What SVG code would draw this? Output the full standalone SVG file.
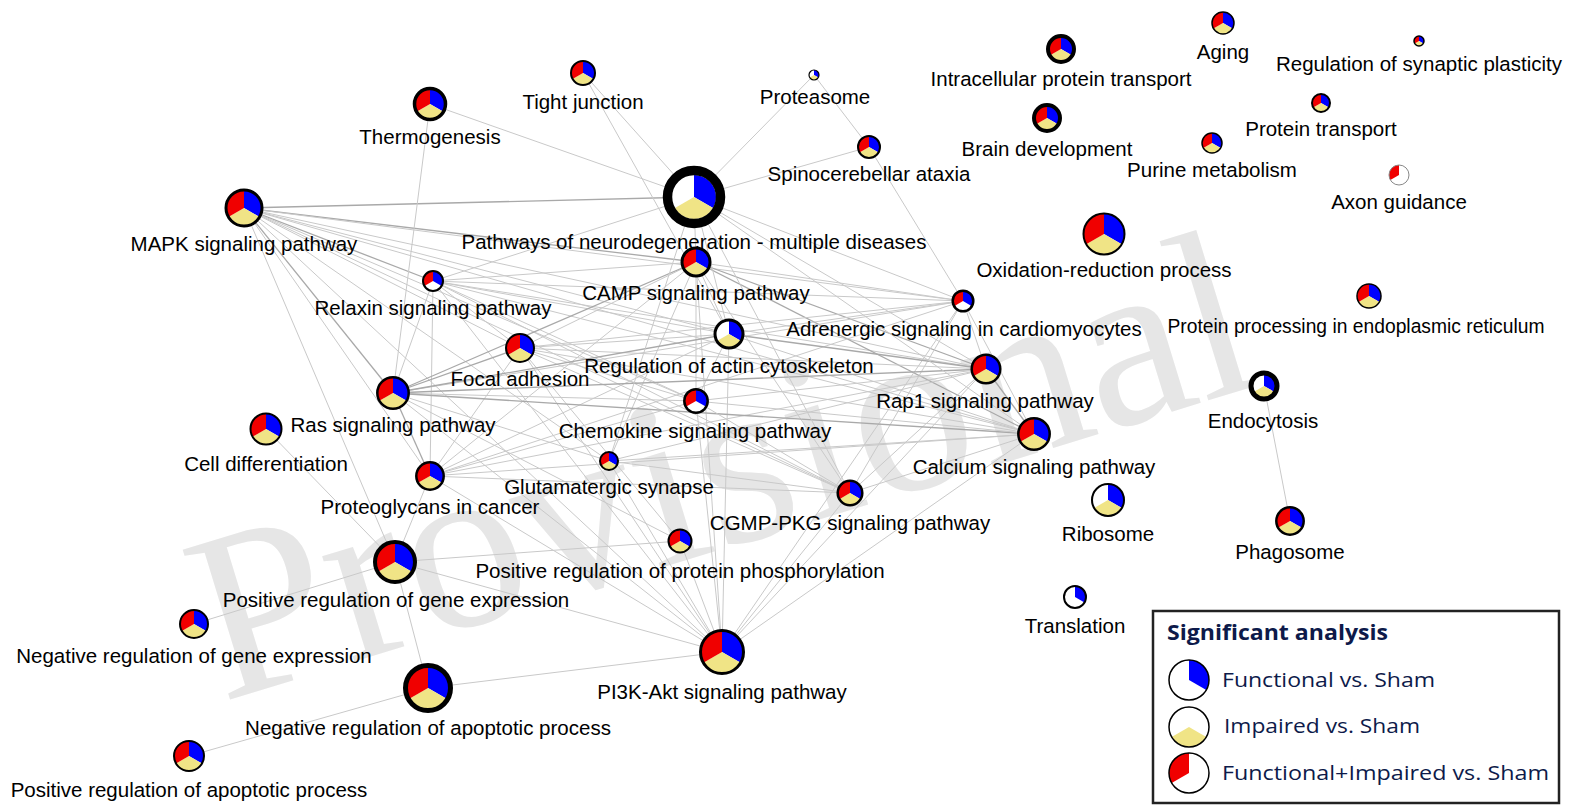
<svg xmlns="http://www.w3.org/2000/svg" xmlns:xlink="http://www.w3.org/1999/xlink" width="1581" height="806" viewBox="0 0 1581 806">
<style>
text{font-family:"Liberation Sans",Arial,sans-serif;font-size:20.5px;fill:#000;text-anchor:middle}
.rim{fill:none;stroke:#000}
.bg{fill:#fff}
#edges line{stroke:#c9c9c9;stroke-width:1}
#edges line.d{stroke:#a9a9a9;stroke-width:1.3}
.lg{font-family:"Open Sans","Liberation Sans",sans-serif;fill:#0d1a4a;text-anchor:start}
.wm{font-family:"Liberation Serif","Times New Roman",serif;font-size:240px;fill:#e6e6e6;text-anchor:start}
</style>
<defs>
<path id="sB" d="M0,0V-1A1,1 0 0 1 .866,.5Z" fill="#0000ff"/>
<path id="sY" d="M0,0L.866,.5A1,1 0 0 1 -.866,.5Z" fill="#f0e486"/>
<path id="sR" d="M0,0L-.866,.5A1,1 0 0 1 0,-1Z" fill="#f00000"/>
<g id="pF"><use href="#sB"/><use href="#sY"/><use href="#sR"/></g>
<g id="pBY"><use href="#sB"/><use href="#sY"/></g>
<g id="pRB"><use href="#sB"/><use href="#sR"/></g>
</defs>
<rect width="1581" height="806" fill="#fff"/>
<text class="wm" transform="translate(222 702) rotate(-17)">Provisional</text>

<g id="edges">
<line x1="244" y1="208" x2="694" y2="197" class="d"/>
<line x1="244" y1="208" x2="696" y2="262" class="d"/>
<line x1="244" y1="208" x2="433" y2="281" class="d"/>
<line x1="244" y1="208" x2="963" y2="301"/>
<line x1="244" y1="208" x2="729" y2="334"/>
<line x1="244" y1="208" x2="986" y2="369"/>
<line x1="244" y1="208" x2="520" y2="348"/>
<line x1="244" y1="208" x2="1034" y2="434"/>
<line x1="244" y1="208" x2="696" y2="401"/>
<line x1="244" y1="208" x2="393" y2="393" class="d"/>
<line x1="244" y1="208" x2="430" y2="476"/>
<line x1="244" y1="208" x2="850" y2="493"/>
<line x1="244" y1="208" x2="722" y2="652"/>
<line x1="244" y1="208" x2="395" y2="562"/>
<line x1="244" y1="208" x2="609" y2="461"/>
<line x1="433" y1="281" x2="696" y2="262"/>
<line x1="433" y1="281" x2="963" y2="301"/>
<line x1="433" y1="281" x2="520" y2="348"/>
<line x1="433" y1="281" x2="729" y2="334"/>
<line x1="433" y1="281" x2="986" y2="369"/>
<line x1="433" y1="281" x2="393" y2="393"/>
<line x1="433" y1="281" x2="696" y2="401"/>
<line x1="433" y1="281" x2="1034" y2="434"/>
<line x1="433" y1="281" x2="430" y2="476"/>
<line x1="433" y1="281" x2="850" y2="493"/>
<line x1="433" y1="281" x2="722" y2="652"/>
<line x1="433" y1="281" x2="694" y2="197"/>
<line x1="696" y1="262" x2="694" y2="197"/>
<line x1="696" y1="262" x2="963" y2="301"/>
<line x1="696" y1="262" x2="520" y2="348"/>
<line x1="696" y1="262" x2="729" y2="334"/>
<line x1="696" y1="262" x2="986" y2="369" class="d"/>
<line x1="696" y1="262" x2="393" y2="393" class="d"/>
<line x1="696" y1="262" x2="696" y2="401"/>
<line x1="696" y1="262" x2="1034" y2="434" class="d"/>
<line x1="696" y1="262" x2="609" y2="461"/>
<line x1="696" y1="262" x2="430" y2="476"/>
<line x1="696" y1="262" x2="850" y2="493"/>
<line x1="696" y1="262" x2="722" y2="652"/>
<line x1="963" y1="301" x2="694" y2="197"/>
<line x1="963" y1="301" x2="869" y2="147"/>
<line x1="963" y1="301" x2="729" y2="334"/>
<line x1="963" y1="301" x2="986" y2="369"/>
<line x1="963" y1="301" x2="1034" y2="434"/>
<line x1="963" y1="301" x2="850" y2="493"/>
<line x1="963" y1="301" x2="722" y2="652"/>
<line x1="963" y1="301" x2="393" y2="393"/>
<line x1="963" y1="301" x2="520" y2="348"/>
<line x1="963" y1="301" x2="430" y2="476"/>
<line x1="520" y1="348" x2="729" y2="334"/>
<line x1="520" y1="348" x2="986" y2="369"/>
<line x1="520" y1="348" x2="393" y2="393" class="d"/>
<line x1="520" y1="348" x2="696" y2="401"/>
<line x1="520" y1="348" x2="1034" y2="434"/>
<line x1="520" y1="348" x2="430" y2="476"/>
<line x1="520" y1="348" x2="722" y2="652"/>
<line x1="520" y1="348" x2="680" y2="541"/>
<line x1="520" y1="348" x2="850" y2="493"/>
<line x1="729" y1="334" x2="986" y2="369" class="d"/>
<line x1="729" y1="334" x2="393" y2="393" class="d"/>
<line x1="729" y1="334" x2="696" y2="401"/>
<line x1="729" y1="334" x2="1034" y2="434"/>
<line x1="729" y1="334" x2="430" y2="476"/>
<line x1="729" y1="334" x2="722" y2="652"/>
<line x1="729" y1="334" x2="583" y2="73"/>
<line x1="729" y1="334" x2="694" y2="197"/>
<line x1="986" y1="369" x2="393" y2="393" class="d"/>
<line x1="986" y1="369" x2="696" y2="401"/>
<line x1="986" y1="369" x2="1034" y2="434" class="d"/>
<line x1="986" y1="369" x2="430" y2="476"/>
<line x1="986" y1="369" x2="850" y2="493"/>
<line x1="986" y1="369" x2="722" y2="652"/>
<line x1="986" y1="369" x2="609" y2="461"/>
<line x1="986" y1="369" x2="694" y2="197"/>
<line x1="393" y1="393" x2="696" y2="401"/>
<line x1="393" y1="393" x2="1034" y2="434" class="d"/>
<line x1="393" y1="393" x2="430" y2="476" class="d"/>
<line x1="393" y1="393" x2="722" y2="652"/>
<line x1="393" y1="393" x2="609" y2="461"/>
<line x1="393" y1="393" x2="680" y2="541"/>
<line x1="393" y1="393" x2="430" y2="104"/>
<line x1="696" y1="401" x2="1034" y2="434"/>
<line x1="696" y1="401" x2="430" y2="476"/>
<line x1="696" y1="401" x2="722" y2="652"/>
<line x1="696" y1="401" x2="850" y2="493"/>
<line x1="1034" y1="434" x2="430" y2="476"/>
<line x1="1034" y1="434" x2="850" y2="493"/>
<line x1="1034" y1="434" x2="722" y2="652"/>
<line x1="1034" y1="434" x2="609" y2="461"/>
<line x1="1034" y1="434" x2="694" y2="197"/>
<line x1="609" y1="461" x2="722" y2="652"/>
<line x1="609" y1="461" x2="850" y2="493"/>
<line x1="609" y1="461" x2="694" y2="197"/>
<line x1="430" y1="476" x2="722" y2="652"/>
<line x1="430" y1="476" x2="395" y2="562"/>
<line x1="430" y1="476" x2="850" y2="493"/>
<line x1="850" y1="493" x2="722" y2="652"/>
<line x1="850" y1="493" x2="694" y2="197"/>
<line x1="680" y1="541" x2="722" y2="652"/>
<line x1="680" y1="541" x2="395" y2="562"/>
<line x1="395" y1="562" x2="194" y2="624"/>
<line x1="395" y1="562" x2="428" y2="688"/>
<line x1="395" y1="562" x2="722" y2="652"/>
<line x1="395" y1="562" x2="266" y2="429"/>
<line x1="428" y1="688" x2="189" y2="756"/>
<line x1="428" y1="688" x2="722" y2="652"/>
<line x1="1264" y1="386" x2="1290" y2="521"/>
<line x1="694" y1="197" x2="430" y2="104"/>
<line x1="694" y1="197" x2="583" y2="73"/>
<line x1="694" y1="197" x2="814" y2="75"/>
<line x1="694" y1="197" x2="869" y2="147"/>
<line x1="814" y1="75" x2="869" y2="147"/>
</g>

<g id="n-neuro"><circle class="bg" cx="694" cy="197" r="26"/><use href="#pBY" transform="translate(694 197) scale(22)"/><circle class="rim" cx="694" cy="197" r="26.5" stroke-width="9.5"/><text x="694" y="249">Pathways of neurodegeneration - multiple diseases</text></g>
<g id="n-thermo"><circle class="bg" cx="430" cy="104" r="15.5"/><use href="#pF" transform="translate(430 104) scale(15.5)"/><circle class="rim" cx="430" cy="104" r="15.5" stroke-width="3.5"/><text x="430" y="144">Thermogenesis</text></g>
<g id="n-tight"><circle class="bg" cx="583" cy="73" r="12"/><use href="#pF" transform="translate(583 73) scale(12)"/><circle class="rim" cx="583" cy="73" r="12" stroke-width="2"/><text x="583" y="109">Tight junction</text></g>
<g id="n-proteasome"><circle class="bg" cx="814" cy="75" r="5"/><use href="#pBY" transform="translate(814 75) scale(5)"/><circle class="rim" cx="814" cy="75" r="5" stroke-width="1.2"/><text x="815" y="104">Proteasome</text></g>
<g id="n-spino"><circle class="bg" cx="869" cy="147" r="11"/><use href="#pF" transform="translate(869 147) scale(11)"/><circle class="rim" cx="869" cy="147" r="11" stroke-width="2"/><text x="869" y="181">Spinocerebellar ataxia</text></g>
<g id="n-intra"><circle class="bg" cx="1061" cy="49" r="13"/><use href="#pF" transform="translate(1061 49) scale(13)"/><circle class="rim" cx="1061" cy="49" r="13" stroke-width="4"/><text x="1061" y="86">Intracellular protein transport</text></g>
<g id="n-aging"><circle class="bg" cx="1223" cy="23" r="11"/><use href="#pF" transform="translate(1223 23) scale(11)"/><circle class="rim" cx="1223" cy="23" r="11" stroke-width="1.5"/><text x="1223" y="59">Aging</text></g>
<g id="n-synaptic"><circle class="bg" cx="1419" cy="41" r="5"/><use href="#pF" transform="translate(1419 41) scale(5)"/><circle class="rim" cx="1419" cy="41" r="5" stroke-width="1.5"/><text x="1419" y="71">Regulation of synaptic plasticity</text></g>
<g id="n-brain"><circle class="bg" cx="1047" cy="118" r="13"/><use href="#pF" transform="translate(1047 118) scale(13)"/><circle class="rim" cx="1047" cy="118" r="13" stroke-width="4"/><text x="1047" y="156">Brain development</text></g>
<g id="n-ptransport"><circle class="bg" cx="1321" cy="103" r="9"/><use href="#pF" transform="translate(1321 103) scale(9)"/><circle class="rim" cx="1321" cy="103" r="9" stroke-width="2"/><text x="1321" y="136">Protein transport</text></g>
<g id="n-purine"><circle class="bg" cx="1212" cy="143" r="10"/><use href="#pF" transform="translate(1212 143) scale(10)"/><circle class="rim" cx="1212" cy="143" r="10" stroke-width="1.5"/><text x="1212" y="177">Purine metabolism</text></g>
<g id="n-axon"><circle class="bg" cx="1399" cy="175" r="10"/><use href="#sR" transform="translate(1399 175) scale(10)"/><circle class="rim" cx="1399" cy="175" r="10" stroke-width="1" style="stroke:#888"/><text x="1399" y="209">Axon guidance</text></g>
<g id="n-mapk"><circle class="bg" cx="244" cy="208" r="18"/><use href="#pF" transform="translate(244 208) scale(18)"/><circle class="rim" cx="244" cy="208" r="18" stroke-width="3"/><text x="244" y="251">MAPK signaling pathway</text></g>
<g id="n-oxid"><circle class="bg" cx="1104" cy="234" r="20.5"/><use href="#pF" transform="translate(1104 234) scale(20.5)"/><circle class="rim" cx="1104" cy="234" r="20.5" stroke-width="2"/><text x="1104" y="277">Oxidation-reduction process</text></g>
<g id="n-relaxin"><circle class="bg" cx="433" cy="281" r="10"/><use href="#pRB" transform="translate(433 281) scale(10)"/><circle class="rim" cx="433" cy="281" r="10" stroke-width="2"/><text x="433" y="315">Relaxin signaling pathway</text></g>
<g id="n-camp"><circle class="bg" cx="696" cy="262" r="14"/><use href="#pF" transform="translate(696 262) scale(14)"/><circle class="rim" cx="696" cy="262" r="14" stroke-width="3"/><text x="696" y="300">CAMP signaling pathway</text></g>
<g id="n-adren"><circle class="bg" cx="963" cy="301" r="10.3"/><use href="#pRB" transform="translate(963 301) scale(10.3)"/><circle class="rim" cx="963" cy="301" r="10.3" stroke-width="2.5"/><text x="964" y="336">Adrenergic signaling in cardiomyocytes</text></g>
<g id="n-er"><circle class="bg" cx="1369" cy="296" r="12"/><use href="#pF" transform="translate(1369 296) scale(12)"/><circle class="rim" cx="1369" cy="296" r="12" stroke-width="1.5"/><text x="1356" y="333" textLength="377" lengthAdjust="spacingAndGlyphs">Protein processing in endoplasmic reticulum</text></g>
<g id="n-focal"><circle class="bg" cx="520" cy="348" r="14"/><use href="#pF" transform="translate(520 348) scale(14)"/><circle class="rim" cx="520" cy="348" r="14" stroke-width="2"/><text x="520" y="386">Focal adhesion</text></g>
<g id="n-actin"><circle class="bg" cx="729" cy="334" r="14"/><use href="#pBY" transform="translate(729 334) scale(14)"/><circle class="rim" cx="729" cy="334" r="14" stroke-width="3"/><text x="729" y="373">Regulation of actin cytoskeleton</text></g>
<g id="n-rap1"><circle class="bg" cx="986" cy="369" r="14.3"/><use href="#pF" transform="translate(986 369) scale(14.3)"/><circle class="rim" cx="986" cy="369" r="14.3" stroke-width="2.5"/><text x="985" y="408">Rap1 signaling pathway</text></g>
<g id="n-endo"><circle class="bg" cx="1264" cy="386" r="13"/><use href="#pBY" transform="translate(1264 386) scale(13)"/><circle class="rim" cx="1264" cy="386" r="13" stroke-width="5"/><text x="1263" y="428">Endocytosis</text></g>
<g id="n-ras"><circle class="bg" cx="393" cy="393" r="15.7"/><use href="#pF" transform="translate(393 393) scale(15.7)"/><circle class="rim" cx="393" cy="393" r="15.7" stroke-width="2.5"/><text x="393" y="432">Ras signaling pathway</text></g>
<g id="n-celldiff"><circle class="bg" cx="266" cy="429" r="15.5"/><use href="#pF" transform="translate(266 429) scale(15.5)"/><circle class="rim" cx="266" cy="429" r="15.5" stroke-width="2"/><text x="266" y="471">Cell differentiation</text></g>
<g id="n-chemo"><circle class="bg" cx="696" cy="401" r="11.7"/><use href="#pRB" transform="translate(696 401) scale(11.7)"/><circle class="rim" cx="696" cy="401" r="11.7" stroke-width="2.5"/><text x="695" y="438">Chemokine signaling pathway</text></g>
<g id="n-calcium"><circle class="bg" cx="1034" cy="434" r="15.7"/><use href="#pF" transform="translate(1034 434) scale(15.7)"/><circle class="rim" cx="1034" cy="434" r="15.7" stroke-width="2.5"/><text x="1034" y="474">Calcium signaling pathway</text></g>
<g id="n-glut"><circle class="bg" cx="609" cy="461" r="9"/><use href="#pF" transform="translate(609 461) scale(9)"/><circle class="rim" cx="609" cy="461" r="9" stroke-width="2"/><text x="609" y="494">Glutamatergic synapse</text></g>
<g id="n-proteo"><circle class="bg" cx="430" cy="476" r="13.7"/><use href="#pF" transform="translate(430 476) scale(13.7)"/><circle class="rim" cx="430" cy="476" r="13.7" stroke-width="2.5"/><text x="430" y="514">Proteoglycans in cancer</text></g>
<g id="n-cgmp"><circle class="bg" cx="850" cy="493" r="12.3"/><use href="#pF" transform="translate(850 493) scale(12.3)"/><circle class="rim" cx="850" cy="493" r="12.3" stroke-width="2.5"/><text x="850" y="530">CGMP-PKG signaling pathway</text></g>
<g id="n-ribo"><circle class="bg" cx="1108" cy="500" r="16"/><use href="#pBY" transform="translate(1108 500) scale(16)"/><circle class="rim" cx="1108" cy="500" r="16" stroke-width="2"/><text x="1108" y="541">Ribosome</text></g>
<g id="n-phago"><circle class="bg" cx="1290" cy="521" r="13.7"/><use href="#pF" transform="translate(1290 521) scale(13.7)"/><circle class="rim" cx="1290" cy="521" r="13.7" stroke-width="2.5"/><text x="1290" y="559">Phagosome</text></g>
<g id="n-pospp"><circle class="bg" cx="680" cy="541" r="11.5"/><use href="#pF" transform="translate(680 541) scale(11.5)"/><circle class="rim" cx="680" cy="541" r="11.5" stroke-width="2"/><text x="680" y="578">Positive regulation of protein phosphorylation</text></g>
<g id="n-posge"><circle class="bg" cx="395" cy="562" r="20"/><use href="#pF" transform="translate(395 562) scale(20)"/><circle class="rim" cx="395" cy="562" r="20" stroke-width="4"/><text x="396" y="607">Positive regulation of gene expression</text></g>
<g id="n-transl"><circle class="bg" cx="1075" cy="597" r="11"/><use href="#sB" transform="translate(1075 597) scale(11)"/><circle class="rim" cx="1075" cy="597" r="11" stroke-width="2"/><text x="1075" y="633">Translation</text></g>
<g id="n-neggene"><circle class="bg" cx="194" cy="624" r="14"/><use href="#pF" transform="translate(194 624) scale(14)"/><circle class="rim" cx="194" cy="624" r="14" stroke-width="2"/><text x="194" y="663">Negative regulation of gene expression</text></g>
<g id="n-pi3k"><circle class="bg" cx="722" cy="652" r="21.5"/><use href="#pF" transform="translate(722 652) scale(21.5)"/><circle class="rim" cx="722" cy="652" r="21.5" stroke-width="3"/><text x="722" y="699">PI3K-Akt signaling pathway</text></g>
<g id="n-negapop"><circle class="bg" cx="428" cy="688" r="22.5"/><use href="#pF" transform="translate(428 688) scale(22.5)"/><circle class="rim" cx="428" cy="688" r="22.5" stroke-width="5"/><text x="428" y="735">Negative regulation of apoptotic process</text></g>
<g id="n-posapop"><circle class="bg" cx="189" cy="756" r="15"/><use href="#pF" transform="translate(189 756) scale(15)"/><circle class="rim" cx="189" cy="756" r="15" stroke-width="2"/><text x="189" y="797">Positive regulation of apoptotic process</text></g>

<g id="legend">
<rect x="1153" y="611" width="406" height="192" fill="#fff" stroke="#222" stroke-width="2.5"/>
<text class="lg" x="1167" y="640" font-size="22" font-weight="700" textLength="221" lengthAdjust="spacingAndGlyphs">Significant analysis</text>
<circle class="bg" cx="1189" cy="680" r="20"/><use href="#sB" transform="translate(1189 680) scale(20)"/><circle class="rim" cx="1189" cy="680" r="20" stroke-width="1.5"/>
<text class="lg" x="1222" y="687" font-size="24" textLength="213" lengthAdjust="spacingAndGlyphs">Functional vs. Sham</text>
<circle class="bg" cx="1189" cy="727" r="20"/><use href="#sY" transform="translate(1189 727) scale(20)"/><circle class="rim" cx="1189" cy="727" r="20" stroke-width="1.5"/>
<text class="lg" x="1224" y="733" font-size="24" textLength="196" lengthAdjust="spacingAndGlyphs">Impaired vs. Sham</text>
<circle class="bg" cx="1189" cy="773" r="20"/><use href="#sR" transform="translate(1189 773) scale(20)"/><circle class="rim" cx="1189" cy="773" r="20" stroke-width="1.5"/>
<text class="lg" x="1222" y="780" font-size="24" textLength="327" lengthAdjust="spacingAndGlyphs">Functional+Impaired vs. Sham</text>
</g>
</svg>
